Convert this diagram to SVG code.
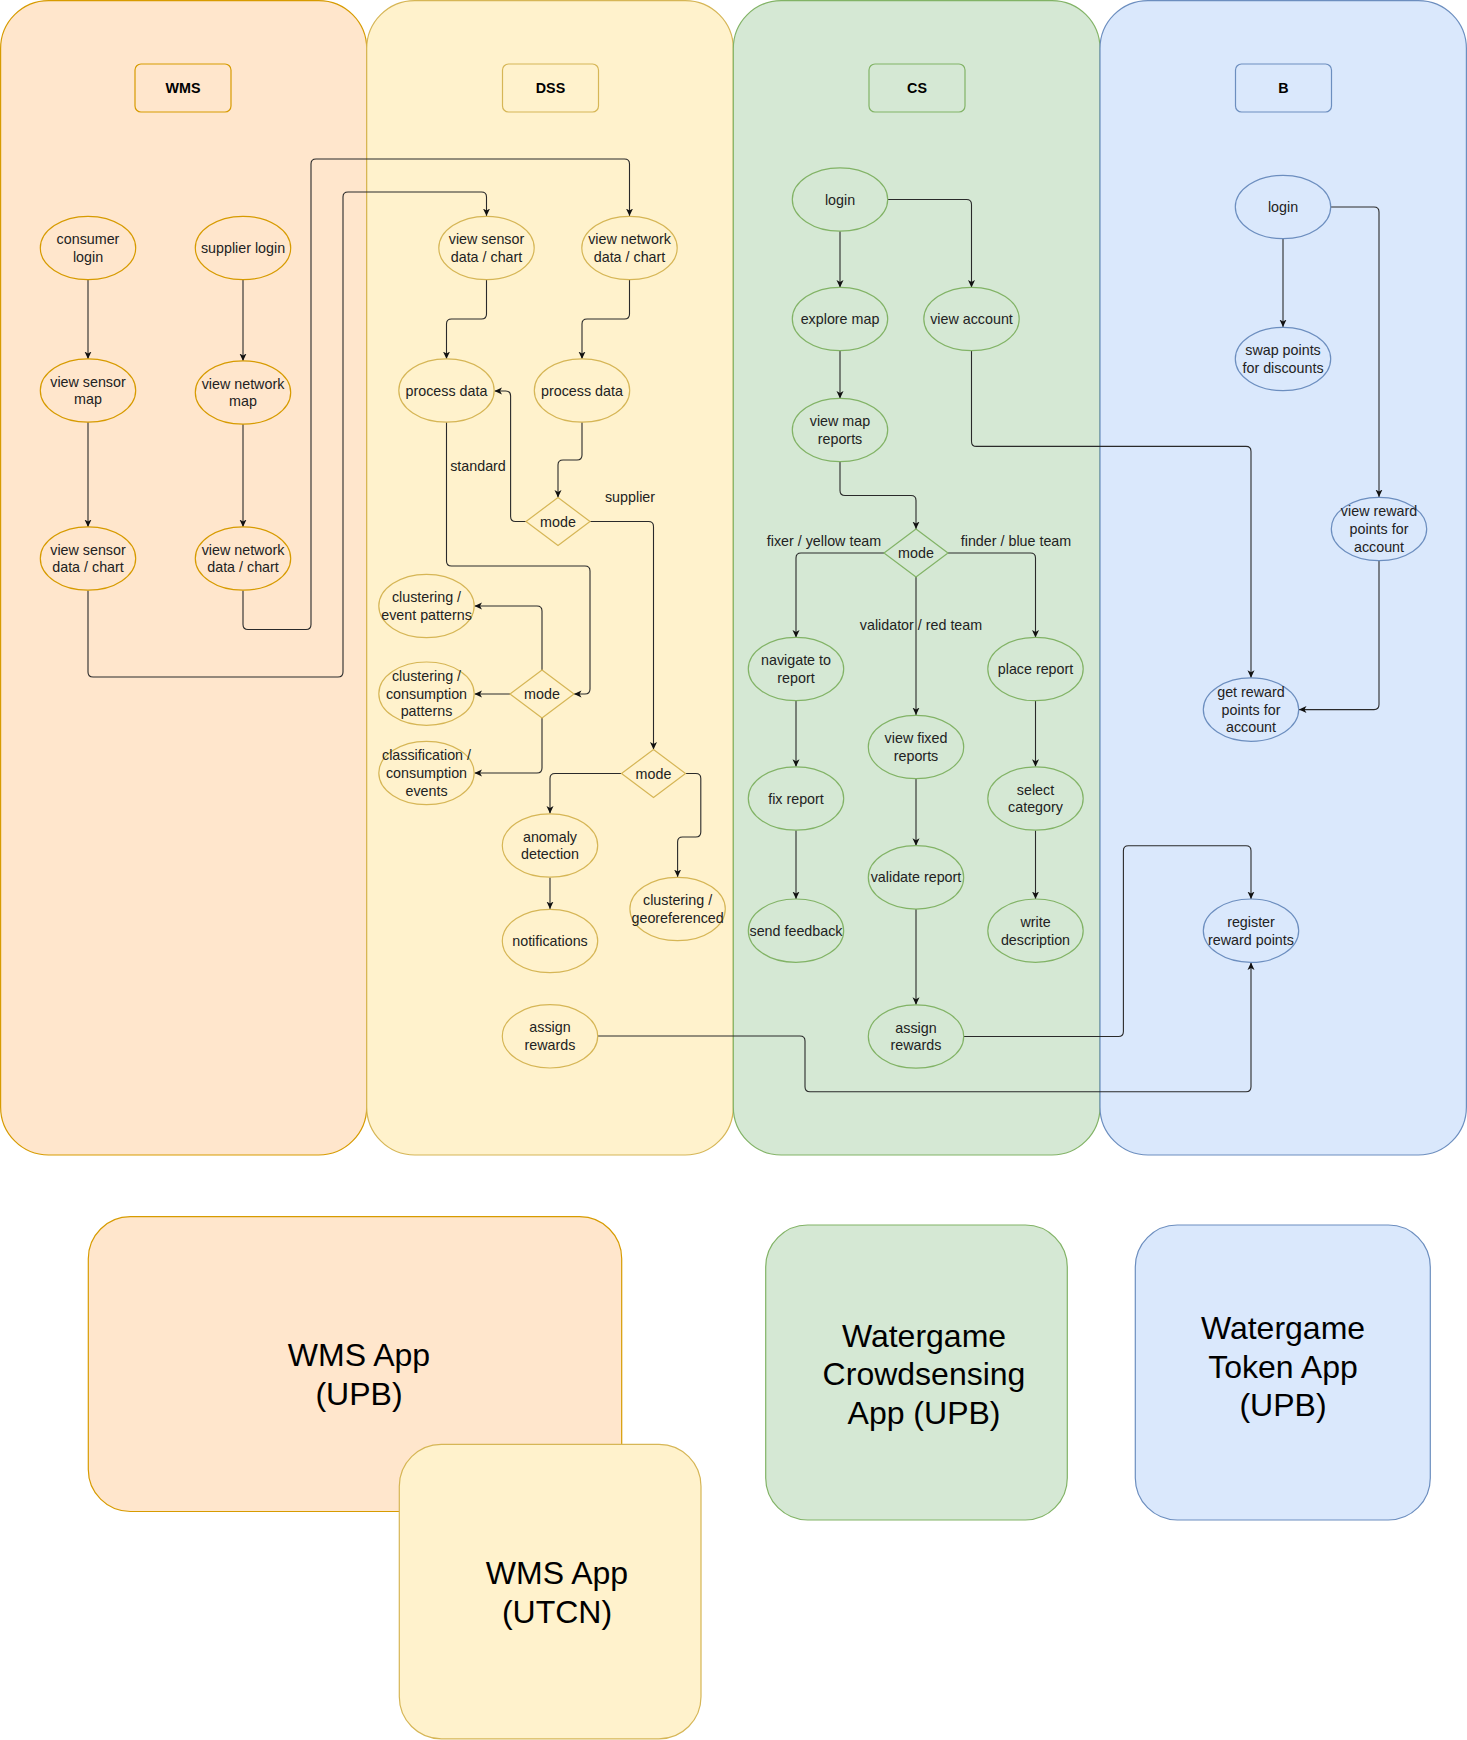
<svg xmlns="http://www.w3.org/2000/svg" width="1467" height="1740" viewBox="0 0 1467 1740">
<style>
text{font-family:"Liberation Sans",Arial,Helvetica,sans-serif;fill:#222;}
.t{font-size:14.3px;text-anchor:middle;}
.h{font-size:14.3px;font-weight:bold;text-anchor:middle;fill:#000;}
.big{font-size:32px;text-anchor:middle;fill:#000;}
.lbl{font-size:14.3px;text-anchor:middle;fill:#222;}
.o{fill:#ffe6cc;stroke:#d79b00;stroke-width:1.2;}
.y{fill:#fff2cc;stroke:#d6b656;stroke-width:1.2;}
.g{fill:#d5e8d4;stroke:#82b366;stroke-width:1.2;}
.b{fill:#dae8fc;stroke:#6c8ebf;stroke-width:1.2;}
.e{fill:none;stroke:#2a2a2a;stroke-width:1.1;marker-end:url(#arr);}
</style>
<defs>
<marker id="arr" markerUnits="userSpaceOnUse" markerWidth="8" markerHeight="8" viewBox="0 0 8 8" refX="7.5" refY="4" orient="auto">
<path d="M0,0.5 L7.5,4 L0,7.5 L2,4 Z" fill="#111"/>
</marker>
</defs>

<g id="lanes">
<g id="lane-wms"><rect class="o" x="0.6" y="0.6" width="366.1" height="1154.4" rx="48" ry="48"/></g>
<g id="lane-dss"><rect class="y" x="366.7" y="0.6" width="366.6" height="1154.4" rx="48" ry="48"/></g>
<g id="lane-cs"><rect class="g" x="733.3" y="0.6" width="366.7" height="1154.4" rx="48" ry="48"/></g>
<g id="lane-b"><rect class="b" x="1100" y="0.6" width="366.4" height="1154.4" rx="48" ry="48"/></g>
</g>

<g id="headers">
<g id="hdr-wms"><rect class="o" x="135" y="64" width="96" height="48" rx="6"/><text class="h" x="183" y="93">WMS</text></g>
<g id="hdr-dss"><rect class="y" x="502.5" y="64" width="96" height="48" rx="6"/><text class="h" x="550.5" y="93">DSS</text></g>
<g id="hdr-cs"><rect class="g" x="869" y="64" width="96" height="48" rx="6"/><text class="h" x="917" y="93">CS</text></g>
<g id="hdr-b"><rect class="b" x="1235.5" y="64" width="96" height="48" rx="6"/><text class="h" x="1283.5" y="93">B</text></g>
</g>

<g id="connectors">
<path class="e" d="M88,280 V359"/>
<path class="e" d="M88,422 V527"/>
<path class="e" d="M243,280 V361"/>
<path class="e" d="M243,424 V527"/>
<path class="e" d="M88,590.5 V672 Q88,677 93,677 H338 Q343,677 343,672 V197 Q343,192 348,192 H481.5 Q486.5,192 486.5,197 V216"/>
<path class="e" d="M243,590.5 V624.5 Q243,629.5 248,629.5 H306 Q311,629.5 311,624.5 V164 Q311,159 316,159 H624.5 Q629.5,159 629.5,164 V216"/>
<path class="e" d="M486.5,280 V314 Q486.5,319 481.5,319 H451.5 Q446.5,319 446.5,324 V359"/>
<path class="e" d="M629.5,280 V314 Q629.5,319 624.5,319 H587 Q582,319 582,324 V359"/>
<path class="e" d="M582,422 V455 Q582,460 577,460 H563 Q558,460 558,465 V497.5"/>
<path class="e" d="M526,521.5 H515.6 Q510.6,521.5 510.6,516.5 V396 Q510.6,391 505.6,391 H494.5"/>
<path class="e" d="M446.5,422 V561 Q446.5,566 451.5,566 H585 Q590,566 590,571 V689 Q590,694 585,694 H574"/>
<path class="e" d="M590,521.5 H648.5 Q653.5,521.5 653.5,526.5 V749.5"/>
<path class="e" d="M542,670 V611 Q542,606 537,606 H474.5"/>
<path class="e" d="M510,694 H474.5"/>
<path class="e" d="M542,718 V768 Q542,773 537,773 H474.5"/>
<path class="e" d="M621.5,773.5 H555 Q550,773.5 550,778.5 V813.5"/>
<path class="e" d="M685.5,773.5 H695.8 Q700.8,773.5 700.8,778.5 V832 Q700.8,837 695.8,837 H682.6 Q677.6,837 677.6,842 V877"/>
<path class="e" d="M550,877.5 V909"/>
<path class="e" d="M598,1036 H800 Q805,1036 805,1041 V1086.7 Q805,1091.7 810,1091.7 H1246 Q1251,1091.7 1251,1086.7 V962.5"/>
<path class="e" d="M840,231 V287.5"/>
<path class="e" d="M888,199.5 H966.5 Q971.5,199.5 971.5,204.5 V287.5"/>
<path class="e" d="M840,351 V398.5"/>
<path class="e" d="M840,462 V490.5 Q840,495.5 845,495.5 H911 Q916,495.5 916,500.5 V529"/>
<path class="e" d="M884,553 H801 Q796,553 796,558 V637.5"/>
<path class="e" d="M948,553 H1030.5 Q1035.5,553 1035.5,558 V637.5"/>
<path class="e" d="M916,577 V715"/>
<path class="e" d="M796,700.5 V766.7"/>
<path class="e" d="M796,830.3 V899"/>
<path class="e" d="M916,778.7 V845.7"/>
<path class="e" d="M916,909 V1004.7"/>
<path class="e" d="M1035.5,700.5 V766.7"/>
<path class="e" d="M1035.5,830.3 V899"/>
<path class="e" d="M971.5,351 V441.4 Q971.5,446.4 976.5,446.4 H1246 Q1251,446.4 1251,451.4 V677.7"/>
<path class="e" d="M963.7,1036.5 H1118.4 Q1123.4,1036.5 1123.4,1031.5 V850.8 Q1123.4,845.8 1128.4,845.8 H1246 Q1251,845.8 1251,850.8 V899"/>
<path class="e" d="M1283,239 V327"/>
<path class="e" d="M1331,207 H1374 Q1379,207 1379,212 V497"/>
<path class="e" d="M1379,561 V704.6 Q1379,709.6 1374,709.6 H1299"/>
<text class="lbl" x="478" y="471">standard</text>
<text class="lbl" x="630" y="502">supplier</text>
<text class="lbl" x="824" y="546">fixer / yellow team</text>
<text class="lbl" x="1016" y="546">finder / blue team</text>
<text class="lbl" x="921" y="630">validator / red team</text>
</g>

<g id="wms-consumer-login"><ellipse class="o" cx="88" cy="248" rx="47.7" ry="31.7"/><text class="t" x="88" y="244">consumer<tspan x="88" dy="17.8">login</tspan></text></g>
<g id="wms-supplier-login"><ellipse class="o" cx="243" cy="248" rx="47.7" ry="31.7"/><text class="t" x="243" y="253">supplier login</text></g>
<g id="wms-view-sensor-map"><ellipse class="o" cx="88" cy="390.5" rx="47.7" ry="31.7"/><text class="t" x="88" y="386.5">view sensor<tspan x="88" dy="17.8">map</tspan></text></g>
<g id="wms-view-network-map"><ellipse class="o" cx="243" cy="392.5" rx="47.7" ry="31.7"/><text class="t" x="243" y="388.5">view network<tspan x="243" dy="17.8">map</tspan></text></g>
<g id="wms-view-sensor-data"><ellipse class="o" cx="88" cy="558.5" rx="47.7" ry="31.7"/><text class="t" x="88" y="554.5">view sensor<tspan x="88" dy="17.8">data / chart</tspan></text></g>
<g id="wms-view-network-data"><ellipse class="o" cx="243" cy="558.5" rx="47.7" ry="31.7"/><text class="t" x="243" y="554.5">view network<tspan x="243" dy="17.8">data / chart</tspan></text></g>

<g id="dss-view-sensor-data"><ellipse class="y" cx="486.5" cy="248" rx="47.7" ry="31.7"/><text class="t" x="486.5" y="244">view sensor<tspan x="486.5" dy="17.8">data / chart</tspan></text></g>
<g id="dss-view-network-data"><ellipse class="y" cx="629.5" cy="248" rx="47.7" ry="31.7"/><text class="t" x="629.5" y="244">view network<tspan x="629.5" dy="17.8">data / chart</tspan></text></g>
<g id="dss-process-data-1"><ellipse class="y" cx="446.5" cy="390.5" rx="47.7" ry="31.7"/><text class="t" x="446.5" y="395.5">process data</text></g>
<g id="dss-process-data-2"><ellipse class="y" cx="582" cy="390.5" rx="47.7" ry="31.7"/><text class="t" x="582" y="395.5">process data</text></g>
<g id="dss-mode-1"><path class="y" d="M558,497.5 L590,521.5 L558,545.5 L526,521.5 Z"/><text class="t" x="558" y="526.5">mode</text></g>
<g id="dss-clustering-event"><ellipse class="y" cx="426.5" cy="606" rx="47.7" ry="31.7"/><text class="t" x="426.5" y="602">clustering /<tspan x="426.5" dy="17.8">event patterns</tspan></text></g>
<g id="dss-clustering-consumption"><ellipse class="y" cx="426.5" cy="693.7" rx="47.7" ry="31.7"/><text class="t" x="426.5" y="681">clustering /<tspan x="426.5" dy="17.6">consumption</tspan><tspan x="426.5" dy="17.6">patterns</tspan></text></g>
<g id="dss-classification"><ellipse class="y" cx="426.5" cy="773" rx="47.7" ry="31.7"/><text class="t" x="426.5" y="760.3">classification /<tspan x="426.5" dy="17.6">consumption</tspan><tspan x="426.5" dy="17.6">events</tspan></text></g>
<g id="dss-mode-2"><path class="y" d="M542,670 L574,694 L542,718 L510,694 Z"/><text class="t" x="542" y="699">mode</text></g>
<g id="dss-mode-3"><path class="y" d="M653.5,749.5 L685.5,773.5 L653.5,797.5 L621.5,773.5 Z"/><text class="t" x="653.5" y="778.5">mode</text></g>
<g id="dss-anomaly"><ellipse class="y" cx="550" cy="845.5" rx="47.7" ry="31.7"/><text class="t" x="550" y="841.5">anomaly<tspan x="550" dy="17.8">detection</tspan></text></g>
<g id="dss-notifications"><ellipse class="y" cx="550" cy="941" rx="47.7" ry="31.7"/><text class="t" x="550" y="946">notifications</text></g>
<g id="dss-clustering-geo"><ellipse class="y" cx="677.6" cy="909" rx="47.7" ry="31.7"/><text class="t" x="677.6" y="905">clustering /<tspan x="677.6" dy="17.8">georeferenced</tspan></text></g>
<g id="dss-assign-rewards"><ellipse class="y" cx="550" cy="1036.3" rx="47.7" ry="31.7"/><text class="t" x="550" y="1032.3">assign<tspan x="550" dy="17.8">rewards</tspan></text></g>

<g id="cs-login"><ellipse class="g" cx="840" cy="199.5" rx="47.7" ry="31.7"/><text class="t" x="840" y="204.5">login</text></g>
<g id="cs-explore-map"><ellipse class="g" cx="840" cy="319" rx="47.7" ry="31.7"/><text class="t" x="840" y="324">explore map</text></g>
<g id="cs-view-account"><ellipse class="g" cx="971.5" cy="319" rx="47.7" ry="31.7"/><text class="t" x="971.5" y="324">view account</text></g>
<g id="cs-view-map-reports"><ellipse class="g" cx="840" cy="430" rx="47.7" ry="31.7"/><text class="t" x="840" y="426">view map<tspan x="840" dy="17.8">reports</tspan></text></g>
<g id="cs-mode"><path class="g" d="M916,529 L948,553 L916,577 L884,553 Z"/><text class="t" x="916" y="558">mode</text></g>
<g id="cs-navigate"><ellipse class="g" cx="796" cy="669" rx="47.7" ry="31.7"/><text class="t" x="796" y="665">navigate to<tspan x="796" dy="17.8">report</tspan></text></g>
<g id="cs-place-report"><ellipse class="g" cx="1035.5" cy="669" rx="47.7" ry="31.7"/><text class="t" x="1035.5" y="674">place report</text></g>
<g id="cs-view-fixed"><ellipse class="g" cx="916" cy="747" rx="47.7" ry="31.7"/><text class="t" x="916" y="743">view fixed<tspan x="916" dy="17.8">reports</tspan></text></g>
<g id="cs-fix-report"><ellipse class="g" cx="796" cy="798.5" rx="47.7" ry="31.7"/><text class="t" x="796" y="803.5">fix report</text></g>
<g id="cs-select-category"><ellipse class="g" cx="1035.5" cy="798.5" rx="47.7" ry="31.7"/><text class="t" x="1035.5" y="794.5">select<tspan x="1035.5" dy="17.8">category</tspan></text></g>
<g id="cs-validate"><ellipse class="g" cx="916" cy="877.4" rx="47.7" ry="31.7"/><text class="t" x="916" y="882.4">validate report</text></g>
<g id="cs-send-feedback"><ellipse class="g" cx="796" cy="930.7" rx="47.7" ry="31.7"/><text class="t" x="796" y="935.7">send feedback</text></g>
<g id="cs-write-description"><ellipse class="g" cx="1035.5" cy="930.7" rx="47.7" ry="31.7"/><text class="t" x="1035.5" y="926.7">write<tspan x="1035.5" dy="17.8">description</tspan></text></g>
<g id="cs-assign-rewards"><ellipse class="g" cx="916" cy="1036.5" rx="47.7" ry="31.7"/><text class="t" x="916" y="1032.5">assign<tspan x="916" dy="17.8">rewards</tspan></text></g>

<g id="b-login"><ellipse class="b" cx="1283" cy="207" rx="47.7" ry="31.7"/><text class="t" x="1283" y="212">login</text></g>
<g id="b-swap"><ellipse class="b" cx="1283" cy="359" rx="47.7" ry="31.7"/><text class="t" x="1283" y="355">swap points<tspan x="1283" dy="17.8">for discounts</tspan></text></g>
<g id="b-view-reward"><ellipse class="b" cx="1379" cy="529" rx="47.7" ry="31.7"/><text class="t" x="1379" y="516.3">view reward<tspan x="1379" dy="17.6">points for</tspan><tspan x="1379" dy="17.6">account</tspan></text></g>
<g id="b-get-reward"><ellipse class="b" cx="1251" cy="709.6" rx="47.7" ry="31.7"/><text class="t" x="1251" y="696.9">get reward<tspan x="1251" dy="17.6">points for</tspan><tspan x="1251" dy="17.6">account</tspan></text></g>
<g id="b-register"><ellipse class="b" cx="1251" cy="930.7" rx="47.7" ry="31.7"/><text class="t" x="1251" y="926.7">register<tspan x="1251" dy="17.8">reward points</tspan></text></g>

<g id="app-wms-upb"><rect class="o" x="88.3" y="1216.7" width="533.4" height="294.8" rx="42" ry="42"/><text class="big" x="359" y="1366">WMS App<tspan x="359" dy="38.5">(UPB)</tspan></text></g>
<g id="app-wms-utcn"><rect class="y" x="399.3" y="1444.3" width="301.7" height="294.5" rx="42" ry="42"/><text class="big" x="557" y="1584">WMS App<tspan x="557" dy="38.5">(UTCN)</tspan></text></g>
<g id="app-crowdsensing"><rect class="g" x="765.7" y="1225" width="301.6" height="295" rx="42" ry="42"/><text class="big" x="924" y="1346.5">Watergame<tspan x="924" dy="38.8">Crowdsensing</tspan><tspan x="924" dy="38.8">App (UPB)</tspan></text></g>
<g id="app-token"><rect class="b" x="1135.3" y="1225" width="295" height="295" rx="42" ry="42"/><text class="big" x="1283" y="1339">Watergame<tspan x="1283" dy="38.6">Token App</tspan><tspan x="1283" dy="38.6">(UPB)</tspan></text></g>
</svg>
